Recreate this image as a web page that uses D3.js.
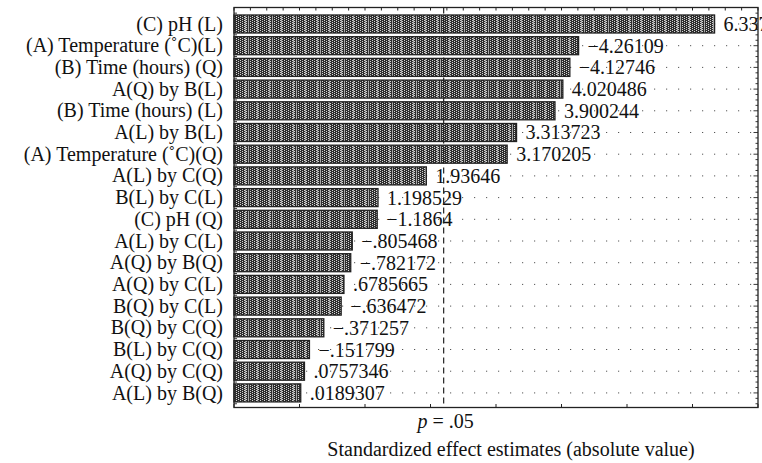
<!DOCTYPE html>
<html>
<head>
<meta charset="utf-8">
<script src="https://cdn.jsdelivr.net/npm/d3@7"></script>
<style>
  html, body { margin: 0; padding: 0; background: #fff; }
  text { font-family: "Liberation Serif", "DejaVu Serif", serif; fill: #111; }
</style>
</head>
<body>
<svg id="chart" width="762" height="463"></svg>
<script>
// effects, sorted as in the Pareto chart (largest on top)
const terms = [
  "(C) pH (L)", "(A) Temperature (˚C)(L)", "(B) Time (hours) (Q)", "A(Q) by B(L)",
  "(B) Time (hours) (L)", "A(L) by B(L)", "(A) Temperature (˚C)(Q)", "A(L) by C(Q)",
  "B(L) by C(L)", "(C) pH (Q)", "A(L) by C(L)", "A(Q) by B(Q)", "A(Q) by C(L)",
  "B(Q) by C(L)", "B(Q) by C(Q)", "B(L) by C(Q)", "A(Q) by C(Q)", "A(L) by B(Q)"
];
const effects = [
  6.337, -4.26109, -4.12746, 4.020486, 3.900244, 3.313723, 3.170205, 1.93646,
  1.198529, -1.1864, -0.805468, -0.782172, 0.6785665, -0.636472, -0.371257,
  -0.151799, 0.0757346, 0.0189307
];
const pCrit = 2.201;
const xDomain = [-1, 7];

const svg = d3.select("#chart");
const pLeft = 234, pRight = 758, pTop = 7.5, pBottom = 407.5;

const x = d3.scaleLinear().domain(xDomain).range([pLeft, pRight]);
const y = d3.scaleBand().domain(terms).range([pTop, 409.4])
  .paddingInner(0.17).paddingOuter(0.345);

// halftone-ish fill for the bars
const defs = svg.append("defs");
const pat = defs.append("pattern").attr("id", "dots")
  .attr("patternUnits", "userSpaceOnUse").attr("width", 24).attr("height", 2);
pat.append("rect").attr("width", 24).attr("height", 2).attr("fill", "#2e2e2e");
for (let i = 0; i < 24; i += 2) {
  pat.append("rect").attr("x", i).attr("y", (i / 2) % 2).attr("width", 1).attr("height", 1).attr("fill", "#d4d4d4");
}
[5, 8, 17].forEach(c => {
  pat.append("rect").attr("x", c).attr("y", 0).attr("width", 1).attr("height", 2).attr("fill", "#a8a8a8");
});

const fmt = v => {
  let s = String(Math.abs(v));
  if (s.startsWith("0.")) s = s.slice(1);
  return (v < 0 ? "−" : "") + s;
};

// dotted row guides
svg.append("g").selectAll("line").data(terms).join("line")
  .attr("x1", pLeft).attr("x2", pRight)
  .attr("y1", d => y(d) + y.bandwidth() / 2).attr("y2", d => y(d) + y.bandwidth() / 2)
  .attr("stroke", "#555").attr("stroke-width", 1)
  .attr("stroke-dasharray", "1.2,10.8");

// bars
svg.append("g").selectAll("rect").data(effects).join("rect")
  .attr("x", pLeft)
  .attr("y", (d, i) => y(terms[i]))
  .attr("width", d => x(Math.abs(d)) - pLeft)
  .attr("height", y.bandwidth())
  .attr("fill", "url(#dots)")
  .attr("stroke", "#222").attr("stroke-width", 1.3);

// value labels
svg.append("g").selectAll("text").data(effects).join("text")
  .attr("x", d => x(Math.abs(d)) + 9)
  .attr("y", (d, i) => y(terms[i]) + y.bandwidth() / 2)
  .attr("dy", "0.35em")
  .attr("font-size", 20)
  .text(fmt);

// term labels
svg.append("g").selectAll("text").data(terms).join("text")
  .attr("x", 223)
  .attr("y", d => y(d) + y.bandwidth() / 2)
  .attr("dy", "0.33em")
  .attr("text-anchor", "end")
  .attr("font-size", 20)
  .text(d => d);

// frame + ticks
const frame = svg.append("g").attr("stroke", "#222").attr("fill", "none");
frame.append("rect").attr("x", pLeft).attr("y", pTop)
  .attr("width", pRight - pLeft).attr("height", pBottom - pTop).attr("stroke-width", 1.3);

const minor = d3.range(xDomain[0], xDomain[1] + 0.001, 0.25);
frame.selectAll(".tt").data(minor).join("line").attr("class", "tt")
  .attr("x1", d => x(d)).attr("x2", d => x(d))
  .attr("y1", pTop).attr("y2", pTop + 3);
frame.selectAll(".bt").data(d3.range(xDomain[0], xDomain[1] + 0.001, 1)).join("line").attr("class", "bt")
  .attr("x1", d => x(d)).attr("x2", d => x(d))
  .attr("y1", pBottom).attr("y2", pBottom - 3.5);

const step = y.step();
const rowEdge0 = y(terms[0]) - step * 0.085;
const rightTicks = d3.range(0, terms.length * 4 + 1).map(k => rowEdge0 + k * step / 4);
frame.selectAll(".rt").data(rightTicks).join("line").attr("class", "rt")
  .attr("x1", pRight).attr("x2", (d, i) => pRight - (i % 4 === 2 ? 4.5 : 2.5))
  .attr("y1", d => d).attr("y2", d => d)
  .attr("stroke-width", 0.9);
frame.selectAll(".lt").data(d3.range(0, terms.length + 1)).join("line").attr("class", "lt")
  .attr("x1", pLeft).attr("x2", pLeft + 3)
  .attr("y1", k => rowEdge0 + k * step)
  .attr("y2", k => rowEdge0 + k * step)
  .attr("stroke-width", 0.9);

// p = .05 reference line
svg.append("line")
  .attr("x1", x(pCrit)).attr("x2", x(pCrit))
  .attr("y1", pTop).attr("y2", pBottom)
  .attr("stroke", "#222").attr("stroke-width", 1.2)
  .attr("stroke-dasharray", "6,4");

const pLabel = svg.append("text")
  .attr("x", x(pCrit) + 2).attr("y", 428)
  .attr("text-anchor", "middle").attr("font-size", 20);
pLabel.append("tspan").attr("font-style", "italic").text("p");
pLabel.append("tspan").text(" = .05");

svg.append("text")
  .attr("x", 511).attr("y", 456)
  .attr("text-anchor", "middle").attr("font-size", 20)
  .text("Standardized effect estimates (absolute value)");
</script>
</body>
</html>
